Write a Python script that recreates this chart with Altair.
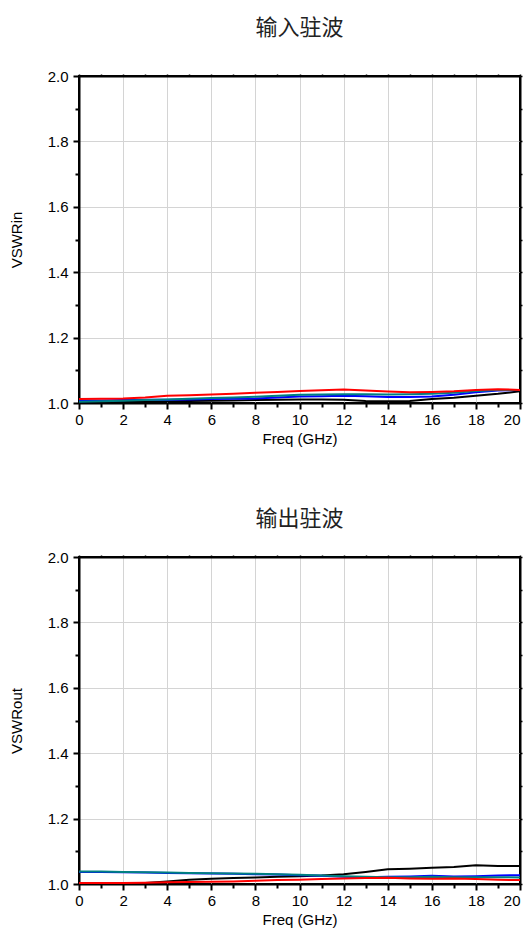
import altair as alt
import pandas as pd

freq = list(range(0, 21))

series_names = ["black", "blue", "teal", "red"]
series_colors = ["#000000", "#0000ff", "#008080", "#ff0000"]

# VSWRin (top chart)
in_black = [1.002, 1.002, 1.003, 1.004, 1.005, 1.006, 1.007, 1.008, 1.009, 1.010, 1.011,
            1.011, 1.010, 1.006, 1.005, 1.006, 1.012, 1.016, 1.022, 1.028, 1.036]
in_blue = [1.008, 1.008, 1.009, 1.010, 1.010, 1.011, 1.012, 1.013, 1.014, 1.017, 1.020,
           1.021, 1.022, 1.021, 1.018, 1.018, 1.020, 1.025, 1.033, 1.038, 1.040]
in_teal = [1.004, 1.005, 1.007, 1.009, 1.011, 1.013, 1.015, 1.017, 1.019, 1.022, 1.025,
           1.026, 1.027, 1.027, 1.026, 1.027, 1.028, 1.031, 1.037, 1.040, 1.040]
in_red = [1.012, 1.013, 1.014, 1.017, 1.022, 1.024, 1.026, 1.028, 1.031, 1.034, 1.037,
          1.039, 1.041, 1.038, 1.035, 1.033, 1.034, 1.036, 1.040, 1.042, 1.040]

# VSWRout (bottom chart)
out_black = [1.000, 1.000, 1.001, 1.003, 1.008, 1.013, 1.016, 1.018, 1.020, 1.022, 1.024,
             1.026, 1.030, 1.037, 1.045, 1.047, 1.050, 1.052, 1.057, 1.055, 1.055]
out_blue = [1.037, 1.037, 1.036, 1.035, 1.034, 1.033, 1.032, 1.031, 1.030, 1.029, 1.027,
            1.025, 1.022, 1.021, 1.022, 1.023, 1.025, 1.023, 1.024, 1.026, 1.027]
out_teal = [1.038, 1.038, 1.037, 1.036, 1.035, 1.034, 1.033, 1.032, 1.031, 1.030, 1.028,
            1.026, 1.024, 1.022, 1.021, 1.021, 1.022, 1.021, 1.021, 1.021, 1.020]
out_red = [1.003, 1.003, 1.003, 1.004, 1.005, 1.006, 1.007, 1.008, 1.010, 1.012, 1.013,
           1.015, 1.017, 1.018, 1.019, 1.017, 1.016, 1.017, 1.015, 1.013, 1.012]

x_ticks = list(range(0, 21))
y_ticks = [round(1.0 + 0.1 * i, 1) for i in range(11)]


def make_df(cols):
    rows = []
    for name, vals in zip(series_names, cols):
        for f, v in zip(freq, vals):
            rows.append({"freq": f, "vswr": v, "series": name})
    return pd.DataFrame(rows)


df_in = make_df([in_black, in_blue, in_teal, in_red])
df_out = make_df([out_black, out_blue, out_teal, out_red])

y_major = "abs(datum.value*5 - round(datum.value*5)) < 0.01"
x_major = "datum.value % 2 == 0"

FONT = "Liberation Sans"


def panel(df, title, ytitle, offset):
    base = alt.Chart(df)
    x_scale = alt.Scale(domain=[0, 20], nice=False, zero=False)
    y_scale = alt.Scale(domain=[1.0, 2.0], nice=False, zero=False)
    color = alt.Color("series:N", scale=alt.Scale(domain=series_names, range=series_colors),
                      legend=None)
    lines = base.mark_line(strokeWidth=2, clip=True).encode(
        x=alt.X("freq:Q", scale=x_scale, title="Freq (GHz)",
                axis=alt.Axis(values=x_ticks,
                              labelExpr="datum.value % 2 == 0 ? datum.value : ''",
                              labelAlign={"condition": {"test": "datum.value == 20",
                                                        "value": "right"},
                                          "value": "center"},
                              tickSize={"condition": {"test": x_major, "value": 6}, "value": 4},
                              gridOpacity={"condition": {"test": x_major, "value": 1}, "value": 0},
                              gridColor="#d4d4d4", tickColor="black", tickWidth=2,
                              domainColor="black", domainWidth=2,
                              labelFont=FONT, labelFontSize=15, labelColor="black",
                              titleFont=FONT, titleFontSize=15, titleFontWeight="normal",
                              titleColor="black", titlePadding=4, labelPadding=3,
                              labelFlush=False)),
        y=alt.Y("vswr:Q", scale=y_scale, title=ytitle,
                axis=alt.Axis(values=y_ticks,
                              labelExpr=y_major + " ? format(datum.value, '.1f') : ''",
                              tickSize={"condition": {"test": y_major, "value": 6}, "value": 4},
                              gridOpacity={"condition": {"test": y_major, "value": 1}, "value": 0},
                              gridColor="#d4d4d4", tickColor="black", tickWidth=2,
                              domainColor="black", domainWidth=2,
                              labelFont=FONT, labelFontSize=15, labelColor="black",
                              titleFont=FONT, titleFontSize=15, titleFontWeight="normal",
                              titleColor="black", titlePadding=23, labelPadding=5,
                              labelFlush=False)),
        color=color,
        order=alt.Order("freq:Q"),
    )
    ghost = base.mark_line(opacity=0).encode(
        x=alt.X("freq:Q", scale=x_scale,
                axis=alt.Axis(orient="top", values=x_ticks, labels=False, title=None,
                              grid=False, tickSize=2, tickColor="black", tickWidth=1.5,
                              domainColor="black", domainWidth=2)),
        y=alt.Y("vswr:Q", scale=y_scale,
                axis=alt.Axis(orient="right", values=y_ticks, labels=False, title=None,
                              grid=False, tickSize=2, tickColor="black", tickWidth=1.5,
                              domainColor="black", domainWidth=2)),
        color=color,
    )
    return alt.layer(lines, ghost).resolve_axis(x="independent", y="independent").properties(
        width=441, height=327,
        title=alt.TitleParams(title, font="Noto Sans CJK SC", fontSize=22,
                              fontWeight="normal", color="#222222",
                              anchor="middle", frame="group", offset=offset),
    )


top = panel(df_in, "输入驻波", "VSWRin", 29)
bottom = panel(df_out, "输出驻波", "VSWRout", 19)

chart = alt.vconcat(top, bottom, spacing=60).properties(
    padding={"left": 0, "top": 8, "right": 0, "bottom": 0}
).configure_view(
    stroke="black", strokeWidth=2
)

chart.save("out.html", embed_options={"renderer": "svg", "actions": False})
